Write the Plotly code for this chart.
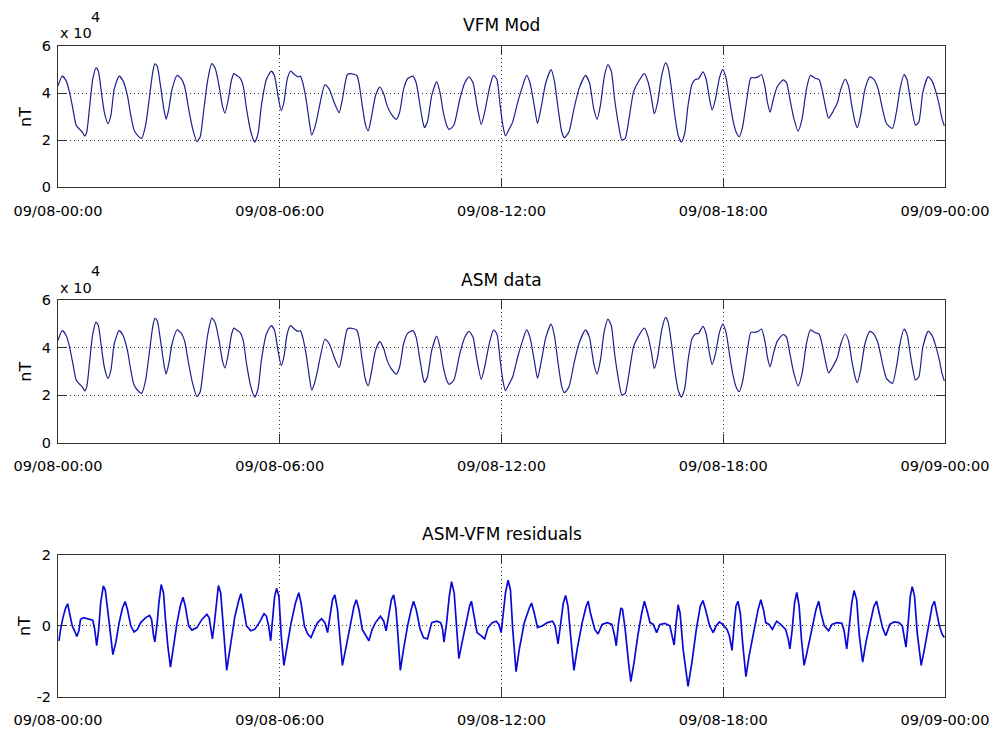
import plotly.graph_objects as go
from plotly.subplots import make_subplots

# ---------------------------------------------------------------------------
# Field magnitude along the orbit, 09/08 00:00 -> 09/09 00:00 (hours since 00:00)
# ---------------------------------------------------------------------------
vfm_hours = [
    0.000, 0.116, 0.224, 0.313, 0.403, 0.492, 0.582, 0.653, 0.725, 0.779,
    0.850, 0.940, 1.029, 1.092, 1.163, 1.253, 1.351, 1.432, 1.521, 1.655,
    1.763, 1.879, 1.969, 2.058, 2.148, 2.264, 2.371, 2.479, 2.568, 2.622,
    2.685, 2.774, 2.864, 2.926, 2.998, 3.087, 3.221, 3.338, 3.427, 3.535,
    3.642, 3.758, 3.848, 3.937, 4.054, 4.161, 4.251, 4.358, 4.447, 4.519,
    4.609, 4.698, 4.761, 4.832, 4.922, 5.011, 5.101, 5.217, 5.324, 5.414,
    5.503, 5.638, 5.772, 5.861, 5.951, 6.040, 6.112, 6.201, 6.291, 6.398,
    6.488, 6.559, 6.622, 6.711, 6.801, 6.864, 6.953, 7.025, 7.221, 7.338,
    7.472, 7.606, 7.696, 7.830, 7.919, 8.081, 8.143, 8.233, 8.322, 8.394,
    8.474, 8.591, 8.707, 8.814, 8.904, 9.011, 9.154, 9.244, 9.351, 9.459,
    9.602, 9.691, 9.781, 9.870, 9.915, 9.996, 10.112, 10.246, 10.336, 10.425,
    10.515, 10.586, 10.711, 10.872, 11.007, 11.123, 11.230, 11.338, 11.454, 11.544,
    11.678, 11.785, 11.875, 11.964, 12.036, 12.107, 12.215, 12.304, 12.438, 12.573,
    12.680, 12.770, 12.886, 12.975, 13.065, 13.199, 13.342, 13.432, 13.521, 13.629,
    13.700, 13.826, 13.960, 14.094, 14.273, 14.380, 14.497, 14.586, 14.676, 14.783,
    14.881, 14.971, 15.060, 15.168, 15.257, 15.347, 15.436, 15.570, 15.687, 15.866,
    15.973, 16.063, 16.134, 16.224, 16.331, 16.438, 16.510, 16.600, 16.689, 16.779,
    16.868, 16.957, 17.047, 17.154, 17.244, 17.333, 17.450, 17.539, 17.629, 17.700,
    17.790, 17.897, 17.987, 18.076, 18.166, 18.255, 18.345, 18.434, 18.523, 18.640,
    18.747, 18.855, 18.944, 19.034, 19.123, 19.195, 19.266, 19.356, 19.463, 19.624,
    19.714, 19.803, 19.911, 20.027, 20.134, 20.251, 20.358, 20.492, 20.591, 20.671,
    20.761, 20.850, 20.984, 21.092, 21.181, 21.298, 21.387, 21.477, 21.566, 21.629,
    21.718, 21.834, 21.969, 22.076, 22.192, 22.309, 22.416, 22.577, 22.685, 22.792,
    22.890, 22.971, 23.087, 23.203, 23.293, 23.400, 23.544, 23.651, 23.758, 23.848,
    23.919, 23.982,
]
vfm_nt = [
    43100, 47200, 45100, 40300, 33300, 26400, 24700, 23600, 21800, 23600,
    33300, 45800, 50700, 49300, 41700, 31900, 27100, 30600, 41700, 47200,
    45100, 38900, 30600, 24300, 22200, 20800, 26400, 38900, 49300, 52400,
    51400, 43100, 33300, 28900, 33300, 41700, 47500, 46100, 42800, 33300,
    25000, 19400, 21500, 31900, 45800, 52500, 50700, 43100, 34700, 31500,
    37500, 45800, 48300, 47500, 46500, 43100, 33300, 23600, 19200, 22900,
    34700, 45800, 49300, 47200, 38900, 32600, 36100, 45800, 49300, 47900,
    46900, 47200, 44400, 37500, 27800, 22200, 25700, 30600, 43500, 41700,
    36100, 31700, 37500, 47900, 48300, 47500, 44400, 34700, 26400, 24000,
    29200, 38900, 42600, 39600, 34700, 31300, 28900, 31900, 41700, 46100,
    47200, 44400, 36100, 27800, 25400, 27800, 38900, 44900, 40300, 31900,
    26400, 24600, 26400, 37500, 44400, 46900, 44400, 34700, 26700, 31900,
    42400, 47500, 45800, 34700, 26400, 21900, 25000, 27800, 36100, 43100,
    47500, 44400, 34700, 27100, 33300, 44400, 50000, 45100, 34700, 23600,
    21100, 23600, 33300, 41700, 47500, 44400, 33300, 28900, 34700, 47200,
    52100, 49300, 37500, 26400, 20100, 20800, 27800, 40300, 44400, 48300,
    44400, 37500, 31300, 36100, 47200, 52800, 50700, 41700, 30600, 22200,
    19200, 22900, 34700, 43800, 45800, 46100, 49000, 45800, 37500, 32900,
    37500, 46500, 50000, 46500, 37500, 29200, 23600, 21500, 25700, 37500,
    46500, 46500, 46900, 47900, 43100, 36100, 31900, 37500, 42800, 45600,
    44400, 37500, 29200, 23900, 29200, 41700, 47500, 46300, 45800, 41700,
    34700, 29400, 32600, 36100, 41700, 45800, 43100, 34700, 27800, 25300,
    30600, 41700, 46900, 45800, 41700, 33300, 27100, 25000, 31900, 42400,
    47900, 45800, 34700, 26400, 27800, 40300, 46900, 45100, 40300, 34700,
    29200, 26100,
]

# ASM scalar data agree with the VFM-derived modulus to within a couple of nT,
# which is far below what the 0-60000 nT scale can show.
asm_hours = vfm_hours
asm_nt = vfm_nt

# ASM - VFM residuals (nT)
res_hours = [
    0.027, 0.063, 0.134, 0.206, 0.260, 0.313, 0.385, 0.447, 0.510, 0.564,
    0.609, 0.689, 0.779, 0.868, 0.940, 0.993, 1.047, 1.101, 1.154, 1.226,
    1.280, 1.342, 1.414, 1.485, 1.566, 1.655, 1.745, 1.817, 1.879, 1.969,
    2.058, 2.148, 2.237, 2.371, 2.479, 2.532, 2.586, 2.622, 2.685, 2.729,
    2.792, 2.855, 2.908, 2.971, 3.043, 3.114, 3.221, 3.311, 3.383, 3.445,
    3.535, 3.624, 3.758, 3.893, 4.027, 4.089, 4.143, 4.179, 4.233, 4.295,
    4.340, 4.403, 4.474, 4.564, 4.653, 4.787, 4.895, 4.949, 5.011, 5.101,
    5.217, 5.324, 5.459, 5.575, 5.638, 5.700, 5.754, 5.790, 5.861, 5.915,
    5.978, 6.040, 6.112, 6.201, 6.309, 6.425, 6.515, 6.577, 6.667, 6.756,
    6.846, 6.935, 7.025, 7.132, 7.221, 7.293, 7.365, 7.427, 7.490, 7.562,
    7.624, 7.696, 7.785, 7.919, 8.009, 8.072, 8.143, 8.233, 8.322, 8.412,
    8.501, 8.591, 8.725, 8.814, 8.877, 8.949, 9.020, 9.083, 9.145, 9.199,
    9.262, 9.351, 9.459, 9.557, 9.620, 9.691, 9.799, 9.888, 9.996, 10.112,
    10.246, 10.353, 10.407, 10.443, 10.515, 10.586, 10.649, 10.720, 10.783, 10.846,
    10.935, 11.051, 11.141, 11.186, 11.248, 11.338, 11.454, 11.544, 11.633, 11.749,
    11.857, 11.928, 11.991, 12.036, 12.107, 12.179, 12.242, 12.304, 12.394, 12.483,
    12.617, 12.752, 12.814, 12.886, 12.975, 13.110, 13.244, 13.378, 13.450, 13.530,
    13.602, 13.673, 13.736, 13.799, 13.870, 13.960, 14.049, 14.183, 14.291, 14.345,
    14.407, 14.523, 14.613, 14.720, 14.855, 14.989, 15.060, 15.105, 15.168, 15.230,
    15.275, 15.347, 15.436, 15.499, 15.588, 15.687, 15.794, 15.866, 15.955, 16.018,
    16.107, 16.197, 16.286, 16.421, 16.555, 16.617, 16.671, 16.725, 16.779, 16.832,
    16.913, 17.047, 17.154, 17.271, 17.378, 17.450, 17.521, 17.629, 17.727, 17.808,
    17.897, 17.987, 18.103, 18.166, 18.237, 18.300, 18.345, 18.398, 18.461, 18.523,
    18.613, 18.702, 18.837, 18.944, 19.016, 19.087, 19.150, 19.239, 19.329, 19.445,
    19.553, 19.687, 19.758, 19.803, 19.866, 19.928, 19.991, 20.054, 20.116, 20.188,
    20.268, 20.403, 20.510, 20.582, 20.644, 20.734, 20.850, 20.940, 21.074, 21.208,
    21.271, 21.342, 21.414, 21.477, 21.539, 21.611, 21.682, 21.772, 21.861, 21.987,
    22.076, 22.148, 22.219, 22.309, 22.398, 22.506, 22.622, 22.756, 22.846, 22.908,
    22.944, 22.998, 23.060, 23.114, 23.177, 23.248, 23.356, 23.445, 23.562, 23.651,
    23.714, 23.776, 23.848, 23.919, 23.982,
]
res_nt = [
    -0.42, -0.14, 0.23, 0.50, 0.62, 0.36, 0.00, -0.14, -0.30, -0.14,
    0.18, 0.23, 0.20, 0.18, 0.16, -0.10, -0.56, -0.10, 0.64, 1.12,
    1.00, 0.46, -0.28, -0.81, -0.46, 0.09, 0.50, 0.68, 0.46, 0.00,
    -0.17, -0.10, 0.09, 0.23, 0.29, 0.18, -0.28, -0.45, 0.09, 0.64,
    1.16, 0.92, 0.18, -0.56, -1.16, -0.65, 0.09, 0.57, 0.80, 0.55,
    0.00, -0.12, -0.05, 0.18, 0.32, 0.23, -0.14, -0.37, 0.09, 0.82,
    1.13, 0.92, 0.00, -1.25, -0.65, 0.27, 0.73, 0.90, 0.55, 0.00,
    -0.14, -0.10, 0.11, 0.34, 0.27, 0.00, -0.42, 0.09, 0.82, 1.05,
    0.82, -0.28, -1.11, -0.56, 0.09, 0.64, 0.93, 0.64, 0.00, -0.23,
    -0.33, -0.10, 0.09, 0.20, 0.09, -0.19, 0.27, 0.73, 0.87, 0.46,
    -0.28, -1.11, -0.65, 0.09, 0.55, 0.73, 0.46, -0.10, -0.28, -0.42,
    -0.10, 0.09, 0.27, 0.13, -0.14, 0.36, 0.73, 0.87, 0.46, -0.28,
    -1.25, -0.65, 0.00, 0.46, 0.69, 0.46, -0.10, -0.33, -0.37, 0.09,
    0.13, 0.09, -0.10, -0.46, 0.09, 0.82, 1.24, 0.92, -0.10, -0.92,
    -0.46, 0.18, 0.57, 0.69, 0.36, -0.19, -0.28, -0.37, -0.05, 0.09,
    0.13, 0.04, -0.19, 0.27, 0.92, 1.28, 1.01, -0.10, -1.29, -0.65,
    0.09, 0.50, 0.64, 0.36, -0.05, 0.00, 0.09, 0.13, 0.00, -0.51,
    0.09, 0.64, 0.85, 0.55, -0.28, -1.25, -0.65, 0.09, 0.55, 0.69,
    0.36, -0.10, -0.23, 0.04, 0.09, 0.04, -0.28, -0.56, 0.09, 0.50,
    0.46, -0.10, -1.02, -1.57, -1.02, -0.28, 0.36, 0.69, 0.36, 0.09,
    0.04, -0.19, 0.04, 0.07, 0.00, -0.28, -0.54, 0.09, 0.59, 0.36,
    -0.65, -1.70, -1.02, -0.10, 0.55, 0.71, 0.46, 0.00, -0.19, 0.00,
    0.11, 0.04, -0.10, -0.28, -0.69, 0.09, 0.55, 0.69, 0.36, -0.46,
    -1.43, -0.83, -0.10, 0.46, 0.73, 0.46, 0.09, 0.04, -0.10, 0.13,
    0.04, -0.10, -0.37, -0.65, -0.10, 0.64, 0.94, 0.55, -0.37, -1.11,
    -0.74, -0.10, 0.46, 0.69, 0.36, 0.00, -0.14, 0.04, 0.09, 0.07,
    -0.14, -0.65, 0.00, 0.64, 0.99, 0.73, -0.28, -1.02, -0.46, 0.18,
    0.55, 0.69, 0.36, -0.05, -0.28, 0.04, 0.11, 0.09, 0.00, -0.37,
    -0.60, 0.00, 0.82, 1.10, 0.82, -0.19, -1.11, -0.65, 0.09, 0.55,
    0.69, 0.36, 0.00, -0.23, -0.33,
]

# Axis ticks
time_ticks = [0, 6, 12, 18, 24]
time_labels = ["09/08-00:00", "09/08-06:00", "09/08-12:00", "09/08-18:00", "09/09-00:00"]
field_ticks = [0, 20000, 40000, 60000]
field_labels = ["0", "2", "4", "6"]
res_ticks = [-2, 0, 2]
res_labels = ["-2", "0", "2"]

titles = ["VFM Mod", "ASM data", "ASM-VFM residuals"]

FONT = "DejaVu Sans"
W, H = 1001, 740
L, R, T, B = 58, 49, 46, 31
plot_h = H - T - B

def py(px):
    """Figure pixel row -> paper y fraction."""
    return (H - B - px) / plot_h

domains = [
    [py(190), 1.0],
    [py(450), py(305)],
    [0.0, py(564)],
]

fig = make_subplots(rows=3, cols=1)

fig.add_trace(go.Scatter(x=vfm_hours, y=vfm_nt, mode="lines",
                         line=dict(color="#1e1e8c", width=1.2, shape="spline", smoothing=0.6),
                         showlegend=False), row=1, col=1)
fig.add_trace(go.Scatter(x=asm_hours, y=asm_nt, mode="lines",
                         line=dict(color="#1e1e8c", width=1.2, shape="spline", smoothing=0.6),
                         showlegend=False), row=2, col=1)
fig.add_trace(go.Scatter(x=res_hours, y=res_nt, mode="lines",
                         line=dict(color="#0a0ad8", width=1.7),
                         showlegend=False), row=3, col=1)

axis_common = dict(
    showline=True, linecolor="#333333", linewidth=1, mirror="ticks",
    ticks="inside", ticklen=9, tickcolor="#333333", tickwidth=1,
    showgrid=True, gridcolor="#333333", gridwidth=1, griddash="1px,3px",
    zeroline=False, tickfont=dict(family=FONT, size=14.5, color="black"),
)

for i in range(3):
    xa = "xaxis" if i == 0 else f"xaxis{i + 1}"
    ya = "yaxis" if i == 0 else f"yaxis{i + 1}"
    fig.layout[xa].update(domain=[0, 1], range=[0, 24], tickmode="array",
                          tickvals=time_ticks, ticktext=time_labels,
                          ticklabelstandoff=10, **axis_common)
    if i < 2:
        fig.layout[ya].update(domain=domains[i], range=[0, 60000], tickmode="array",
                              tickvals=field_ticks, ticktext=field_labels,
                              ticklabelstandoff=3, **axis_common)
    else:
        fig.layout[ya].update(domain=domains[i], range=[-2, 2], tickmode="array",
                              tickvals=res_ticks, ticktext=res_labels,
                              ticklabelstandoff=3, **axis_common)

annotations = []
title_rows = [25, 284, 543]
for text, row_px in zip(titles, title_rows):
    annotations.append(dict(text=text, xref="paper", yref="paper", x=0.5, y=py(row_px),
                            xanchor="center", yanchor="middle", showarrow=False,
                            font=dict(family=FONT, size=17, color="black")))

# y-axis unit labels
for top_px, bot_px in [(46, 190), (305, 450), (564, 709)]:
    annotations.append(dict(text="nT", textangle=-90, xref="paper", yref="paper",
                            x=(25 - L) / (W - L - R), y=py((top_px + bot_px) / 2),
                            xanchor="center", yanchor="middle", showarrow=False,
                            font=dict(family=FONT, size=16, color="black")))

# exponent labels for the field panels
for top_px in [46, 305]:
    annotations.append(dict(text="x 10", xref="paper", yref="paper",
                            x=0, y=py(top_px - 13), xanchor="left", yanchor="middle",
                            showarrow=False, font=dict(family=FONT, size=14.5, color="black")))
    annotations.append(dict(text="4", xref="paper", yref="paper",
                            x=(96 - L) / (W - L - R), y=py(top_px - 30),
                            xanchor="center", yanchor="middle",
                            showarrow=False, font=dict(family=FONT, size=14.5, color="black")))

fig.update_layout(
    width=W, height=H,
    margin=dict(l=L, r=R, t=T, b=B),
    paper_bgcolor="white", plot_bgcolor="white",
    annotations=annotations,
    showlegend=False,
)

fig.write_html("out.html")
